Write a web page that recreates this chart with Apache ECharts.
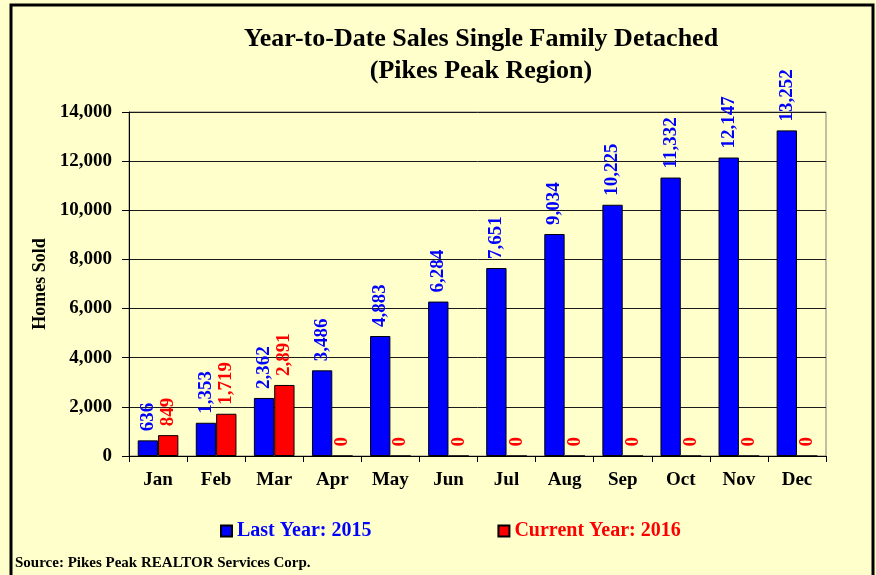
<!DOCTYPE html>
<html>
<head>
<meta charset="utf-8">
<script src="https://cdn.jsdelivr.net/npm/echarts@6/dist/echarts.min.js"></script>
<style>
  html, body { margin: 0; padding: 0; background: #ffffcc; }
  #chart { width: 876px; height: 575px; }
</style>
</head>
<body>
<div id="chart"></div>
<script>
const months = ['Jan', 'Feb', 'Mar', 'Apr', 'May', 'Jun', 'Jul', 'Aug', 'Sep', 'Oct', 'Nov', 'Dec'];
const lastYear = [636, 1353, 2362, 3486, 4883, 6284, 7651, 9034, 10225, 11332, 12147, 13252];
const currentYear = [849, 1719, 2891, 0, 0, 0, 0, 0, 0, 0, 0, 0];
const lastName = 'Last Year: 2015';
const currentName = 'Current Year: 2016';

const serif = 'Liberation Serif';
const fmt = (v) => Number(v).toLocaleString('en-US');

const chart = echarts.init(document.getElementById('chart'));

const barLabel = (color) => ({
  show: true,
  position: 'top',
  rotate: 90,
  align: 'left',
  verticalAlign: 'middle',
  distance: 9,
  color: color,
  fontFamily: serif,
  fontWeight: 'bold',
  fontSize: 19,
  formatter: (p) => fmt(p.value),
});

const option = {
  backgroundColor: '#ffffcc',
  animation: false,
  title: {
    text: 'Year-to-Date Sales Single Family Detached\n(Pikes Peak Region)',
    left: 476,
    textAlign: 'center',
    top: 18,
    textStyle: {
      fontFamily: serif,
      fontWeight: 'bold',
      fontSize: 26,
      lineHeight: 32,
      color: '#000',
    },
  },
  legend: {
    left: 215,
    top: 516,
    itemWidth: 11,
    itemHeight: 11,
    itemGap: 126,
    icon: 'rect',
    textStyle: { fontFamily: serif, fontWeight: 'bold', fontSize: 20 },
    data: [
      { name: lastName, textStyle: { color: '#0000ff' } },
      { name: currentName, textStyle: { color: '#ff0000' } },
    ],
  },
  grid: {
    left: 129,
    right: 50,
    top: 112,
    bottom: 119,
    show: true,
    borderColor: '#808080',
    borderWidth: 1,
    backgroundColor: 'transparent',
  },
  xAxis: {
    type: 'category',
    data: months,
    axisLine: { lineStyle: { color: '#000', width: 1 } },
    axisTick: { show: true, length: 6, lineStyle: { color: '#000' } },
    axisLabel: {
      color: '#000',
      fontFamily: serif,
      fontWeight: 'bold',
      fontSize: 19,
      margin: 15,
    },
  },
  yAxis: {
    type: 'value',
    min: 0,
    max: 14000,
    interval: 2000,
    name: 'Homes Sold',
    nameLocation: 'middle',
    nameGap: 77,
    nameTextStyle: {
      color: '#000',
      fontFamily: serif,
      fontWeight: 'bold',
      fontSize: 18,
    },
    axisLine: { show: true, lineStyle: { color: '#000', width: 1 } },
    axisTick: { show: true, length: 7, lineStyle: { color: '#000' } },
    splitLine: { lineStyle: { color: '#1a1a1a', width: 1 } },
    axisLabel: {
      color: '#000',
      fontFamily: serif,
      fontWeight: 'bold',
      fontSize: 19,
      margin: 17,
      formatter: (v) => fmt(v),
    },
  },
  series: [
    {
      name: lastName,
      type: 'bar',
      data: lastYear,
      barGap: '0%',
      barCategoryGap: '30%',
      itemStyle: { color: '#0000ff', borderColor: '#000', borderWidth: 1 },
      label: barLabel('#0000ff'),
    },
    {
      name: currentName,
      type: 'bar',
      data: currentYear,
      itemStyle: { color: '#ff0000', borderColor: '#000', borderWidth: 1 },
      label: barLabel('#ff0000'),
    },
  ],
  graphic: [
    {
      type: 'rect',
      shape: { x: 11, y: 5, width: 862, height: 620 },
      style: { fill: 'none', stroke: '#000', lineWidth: 3 },
      silent: true,
    },
    {
      type: 'text',
      left: 15,
      top: 556,
      style: {
        text: 'Source: Pikes Peak REALTOR Services Corp.',
        font: 'bold 15px "Liberation Serif"',
        fill: '#000',
      },
    },
  ],
};

chart.setOption(option);
</script>
</body>
</html>
